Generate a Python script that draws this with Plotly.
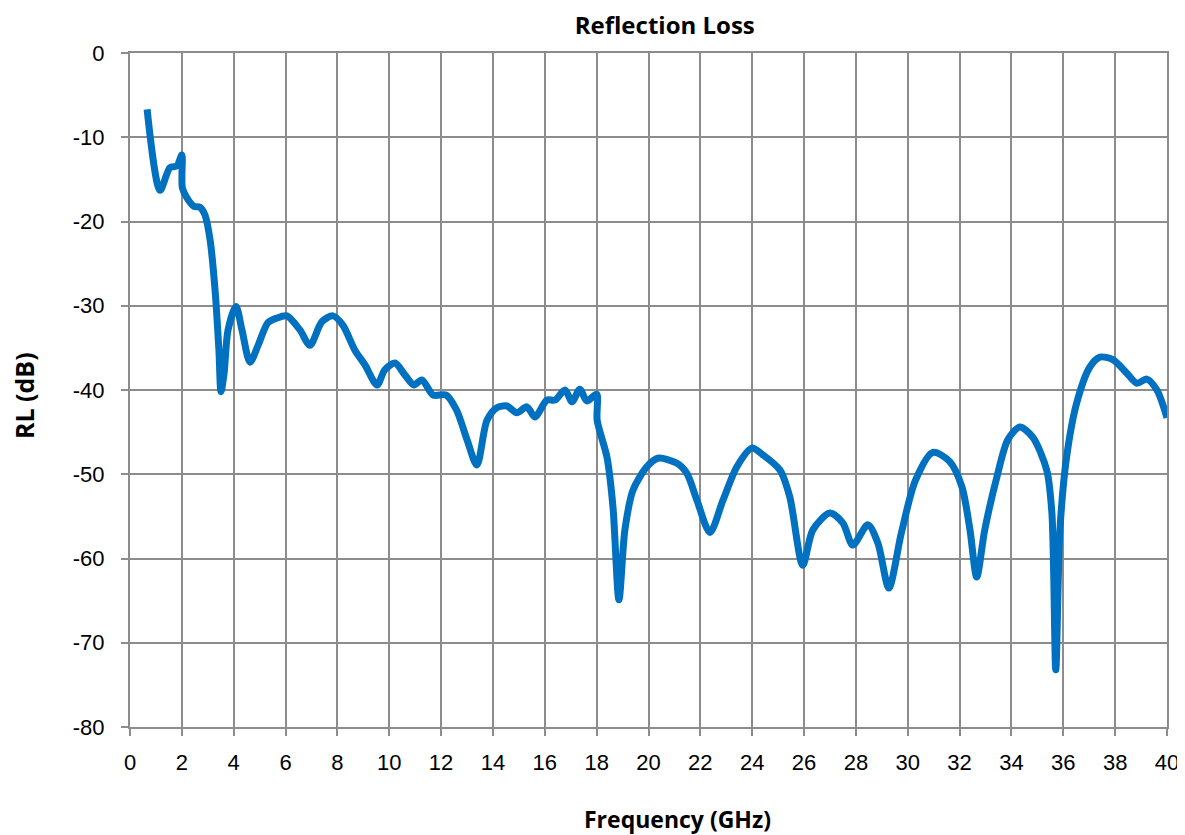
import plotly.graph_objects as go

freq_ghz = [0.66, 1.16, 1.54, 1.81, 2.0, 2.02, 2.24, 2.47, 2.7, 2.89, 3.09, 3.28, 3.43, 3.51,
            3.63, 3.78, 4.09, 4.32, 4.63, 4.94, 5.32, 5.63, 6.05, 6.56, 6.94, 7.4, 7.83, 8.21,
            8.68, 9.06, 9.53, 9.83, 10.22, 10.6, 10.95, 11.26, 11.69, 12.2, 12.6, 13.0, 13.38,
            13.77, 14.15, 14.54, 14.92, 15.31, 15.62, 16.08, 16.39, 16.78, 17.05, 17.35, 17.62,
            18.0, 18.02, 18.4, 18.63, 18.86, 19.09, 19.4, 19.94, 20.36, 21.1, 21.48, 21.87,
            22.37, 22.87, 23.41, 23.99, 24.41, 25.07, 25.45, 25.95, 26.34, 27.0, 27.5, 27.88,
            28.46, 28.85, 29.27, 29.75, 30.3, 30.97, 31.62, 32.09, 32.4, 32.66, 32.97, 33.44,
            33.86, 34.32, 34.82, 35.36, 35.56, 35.71, 35.87, 36.13, 36.52, 37.02, 37.41, 37.91,
            38.45, 38.84, 39.22, 39.61, 40.0]
rl_db = [-6.7, -16.3, -13.6, -13.4, -12.1, -16.0, -17.4, -18.2, -18.3, -19.2, -22.2, -28.1, -35.3,
         -40.2, -38.0, -32.9, -30.1, -32.9, -36.7, -34.7, -32.0, -31.5, -31.2, -32.9, -34.7, -31.9,
         -31.2, -32.3, -35.3, -37.0, -39.4, -37.6, -36.8, -38.2, -39.4, -38.8, -40.6, -40.6, -42.4,
         -45.9, -48.9, -43.6, -42.1, -41.9, -42.7, -42.0, -43.2, -41.2, -41.2, -40.0, -41.4, -39.9,
         -41.3, -40.5, -43.6, -48.0, -53.9, -64.9, -56.6, -51.9, -49.1, -48.1, -48.7, -49.9, -53.1,
         -56.9, -53.1, -49.1, -46.9, -47.7, -49.5, -52.7, -60.8, -56.6, -54.6, -55.8, -58.4, -56.0,
         -58.2, -63.5, -57.0, -50.7, -47.4, -48.5, -51.5, -56.6, -62.2, -56.6, -50.3, -45.9, -44.4,
         -45.6, -49.5, -54.6, -73.2, -56.6, -47.9, -41.5, -37.3, -36.1, -36.4, -38.0, -39.2, -38.7,
         -40.0, -43.3]

x_ticks = list(range(0, 41, 2))
y_ticks = list(range(0, -81, -10))

fig = go.Figure()
fig.add_trace(go.Scatter(x=freq_ghz, y=rl_db, mode="lines",
                         line=dict(color="#0070C0", width=7, shape="spline", smoothing=0.8),
                         showlegend=False, hoverinfo="x+y"))

axis_common = dict(showgrid=True, gridcolor="#8c8c8c", gridwidth=2,
                   showline=True, linecolor="#8c8c8c", linewidth=2,
                   ticks="outside", ticklen=7, tickcolor="#8c8c8c", tickwidth=2,
                   zeroline=False, automargin=False, mirror=True,
                   tickfont=dict(family="Liberation Sans, Arial", size=22, color="#000"))

fig.update_xaxes(range=[0, 40], tickvals=x_ticks, ticktext=[str(v) for v in x_ticks],
                 ticklabelstandoff=8, **axis_common)
fig.update_yaxes(range=[-80, 0], tickvals=y_ticks, ticktext=[str(v) for v in y_ticks],
                 ticklabelstandoff=12, **axis_common)

fig.add_annotation(text="<b>Frequency (GHz)</b>", xref="paper", yref="paper",
                   x=0.5275, y=-0.136, xanchor="center", yanchor="middle",
                   showarrow=False, font=dict(family="Open Sans, Lato", size=23, color="#000"))
fig.add_annotation(text="<b>RL (dB)</b>", xref="paper", yref="paper",
                   x=-0.1022, y=0.491, xanchor="center", yanchor="middle", textangle=-90,
                   showarrow=False, font=dict(family="Open Sans, Lato", size=25, color="#000"))

fig.update_layout(
    width=1177, height=827, autosize=False,
    margin=dict(l=122, r=18, t=45, b=108),
    paper_bgcolor="white", plot_bgcolor="white",
    title=dict(text="<b>Reflection Loss</b>", x=0.558, xanchor="center",
               y=1 - 18 / 827, yanchor="middle", automargin=False,
               font=dict(family="Open Sans, Lato", size=24, color="#000")),
)

fig.write_html("out.html")
